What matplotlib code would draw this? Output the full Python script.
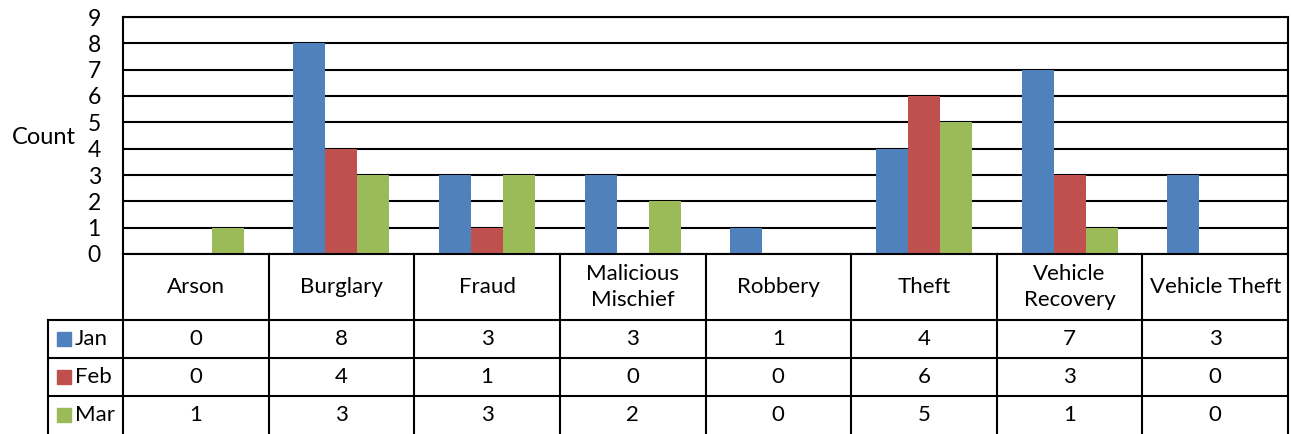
import matplotlib

matplotlib.use("Agg")
import matplotlib.pyplot as plt
import numpy as np

categories = ["Arson", "Burglary", "Fraud", "Malicious\nMischief", "Robbery",
              "Theft", "Vehicle\nRecovery", "Vehicle Theft"]
series_names = ["Jan", "Feb", "Mar"]
jan = [0, 8, 3, 3, 1, 4, 7, 3]
feb = [0, 4, 1, 0, 0, 6, 3, 0]
mar = [1, 3, 3, 2, 0, 5, 1, 0]
y_ticks = list(range(0, 10))
colors = ["#4F81BD", "#C0504D", "#9BBB59"]

plt.rcParams["font.family"] = ["Lato", "DejaVu Sans"]
FS = 16
LW = 1.5

W, H = 1291, 434
fig = plt.figure(figsize=(W / 100, H / 100), dpi=100)

# pixel layout
ax_left, ax_right, ax_top, ax_bottom = 123, 1288, 17, 254
leg_left = 48
row_lines = [320, 358, 396, 434]

ax = fig.add_axes([ax_left / W, 1 - ax_bottom / H,
                   (ax_right - ax_left) / W, (ax_bottom - ax_top) / H])
x = np.arange(len(categories))
bw = 0.22
for i, vals in enumerate([jan, feb, mar]):
    ax.bar(x + (i - 1) * bw, vals, bw, color=colors[i], zorder=2)

ax.set_xlim(-0.5, len(categories) - 0.5)
ax.set_ylim(0, 9)
ax.set_yticks(y_ticks)
ax.set_xticks([])
ax.tick_params(axis="y", length=0, pad=16, labelsize=FS + 0.5)
ax.yaxis.grid(True, color="black", linewidth=LW, zorder=1)
ax.set_axisbelow(True)
for s in ax.spines.values():
    s.set_linewidth(LW)
    s.set_color("black")
ax.text((76 - ax_left) / (ax_right - ax_left), 1 - (137 - ax_top) / (ax_bottom - ax_top),
        "Count", transform=ax.transAxes, ha="right", va="center", fontsize=FS + 1)

# data table below the chart
cw = (ax_right - ax_left) / len(categories)
xl = -0.5 - (ax_left - leg_left) / cw
tax = fig.add_axes([leg_left / W, 0, (ax_right - leg_left) / W, (H - ax_bottom) / H])
tax.set_xlim(xl, len(categories) - 0.5)
tax.set_ylim(H, ax_bottom)
tax.axis("off")

for k in range(len(categories) + 1):
    tax.plot([k - 0.5, k - 0.5], [ax_bottom, H], color="black", lw=LW, clip_on=False)
tax.plot([xl, xl], [row_lines[0], H], color="black", lw=LW, clip_on=False)
for yl in row_lines[:-1]:
    tax.plot([xl, len(categories) - 0.5], [yl, yl], color="black", lw=LW, clip_on=False)

head_y = (ax_bottom + row_lines[0]) / 2
for j, cat in enumerate(categories):
    tax.text(j, head_y, cat, ha="center", va="center", fontsize=FS, linespacing=1.35)

key = 14 / cw
for i, (name, vals) in enumerate(zip(series_names, [jan, feb, mar])):
    yc = (row_lines[i] + row_lines[i + 1]) / 2
    kx = xl + 9 / cw
    tax.add_patch(plt.Rectangle((kx, yc - 7), key, 14, color=colors[i], clip_on=False))
    tax.text(kx + key + 4 / cw, yc, name, ha="left", va="center", fontsize=FS)
    for j, v in enumerate(vals):
        tax.text(j, yc, str(v), ha="center", va="center", fontsize=FS)

fig.savefig("out.png", dpi=100)
